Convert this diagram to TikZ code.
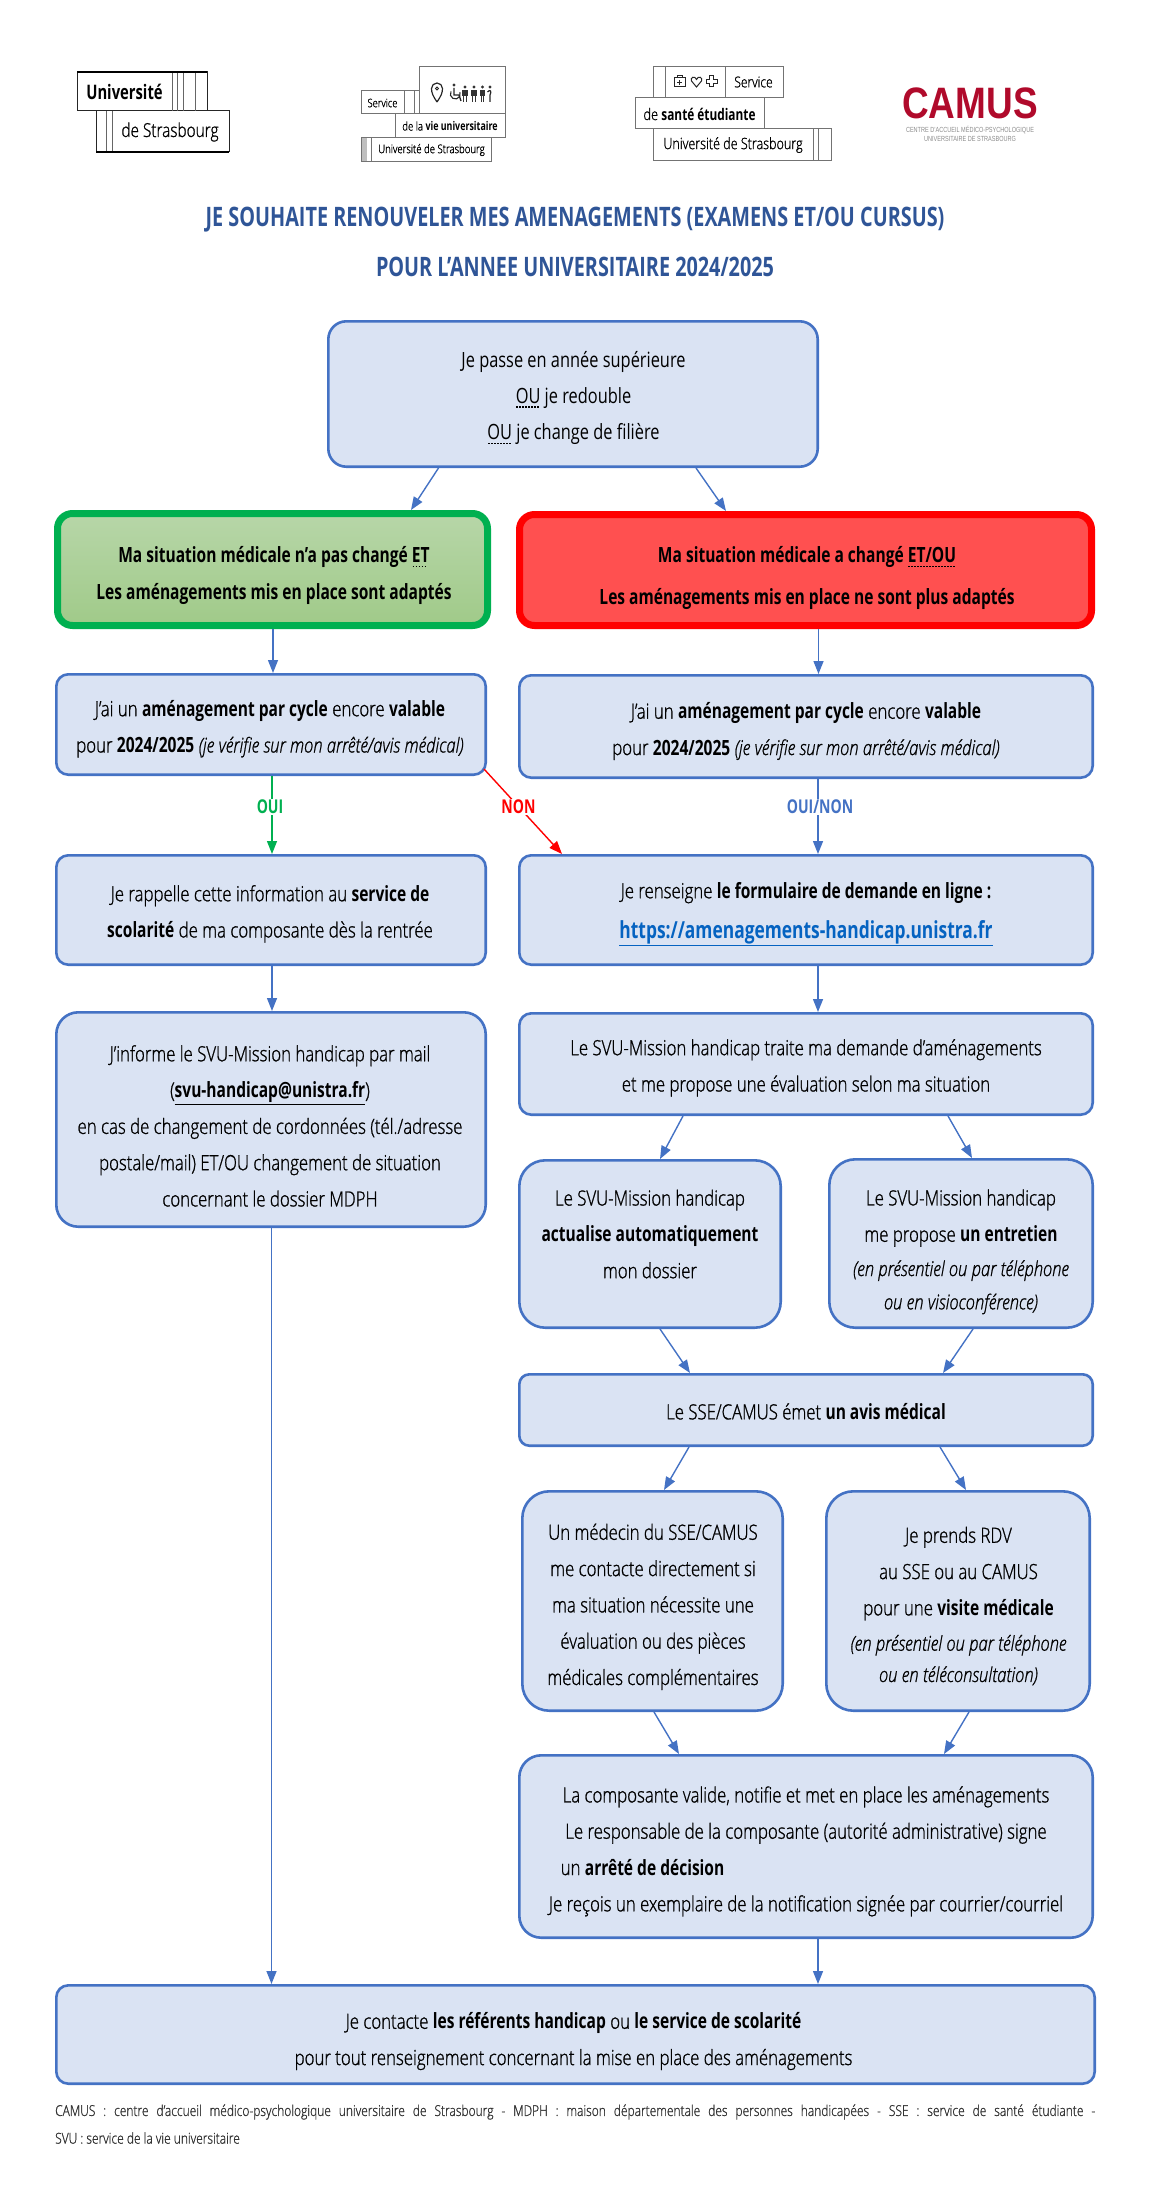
\documentclass[tikz,border=0pt]{standalone}
\usepackage{fontspec}
\setmainfont{Open Sans}[UprightFont=* Light,BoldFont=* Bold,ItalicFont=* Light Italic,UprightFeatures={FakeStretch=.8,FakeBold=1},BoldFeatures={FakeStretch=.74},ItalicFeatures={FakeStretch=.81,FakeBold=1}]
\newfontfamily\regfont{Open Sans}[FakeStretch=.78]
\newfontfamily\camusfont{Liberation Sans}[FakeStretch=.84]
\newfontfamily\camussmall{Liberation Sans}[FakeStretch=.75]
\usetikzlibrary{arrows.meta}
\definecolor{bluel}{HTML}{4472C4}
\definecolor{bluef}{HTML}{DAE3F3}
\definecolor{titleblue}{HTML}{2F5597}
\definecolor{linkblue}{HTML}{0563C1}
\definecolor{greenl}{HTML}{00B050}
\definecolor{camusred}{HTML}{B00A2B}
\newcommand\tx[3]{\smash{\makebox[0pt]{\kern#1pt\raisebox{\dimexpr #2pt-5.3pt\relax}{\begin{tabular}{@{}c@{}}#3\end{tabular}}}}}
\newcommand\ita[1]{{\itshape\fontsize{20.5}{36.3}\selectfont #1}}
\newcommand\dul[1]{\setbox0=\hbox{#1}\rlap{\raisebox{-4.5pt}{\hbox to \wd0{\leaders\hbox to 3pt{\hss\vrule width 1.7pt height 1.5pt\hss}\hfil}}}\box0 }
\newcommand\person[1]{\fill[black!80] (#1,87) circle (1.7pt);\fill[black!80] ({#1-2.6},90) rectangle ({#1+2.6},96);\draw[black!80,line width=1pt] ({#1-1.4},96) -- ({#1-1.4},102) ({#1+1.4},96) -- ({#1+1.4},102);}
\tikzset{
  x=1pt,y=-1pt,
  place/.style n args={4}{at={({(#1+#3)/2},{(#2+#4)/2})},minimum width=#3pt-#1pt-\pgflinewidth,minimum height=#4pt-#2pt-\pgflinewidth},
  rr/.style={rounded corners=#1pt},
  box/.style={draw=bluel,fill=bluef,line width=2.6pt,inner sep=0pt,font=\fontsize{21}{36.3}\selectfont,text=black},
  greenbox/.style={box,draw=greenl,line width=7pt,top color=B6green,bottom color=A0green},
  redbox/.style={box,draw=red,line width=7pt,fill=redf},
  conn/.style={draw=bluel,line width=1.4pt,-{Triangle[length=13pt,width=10pt]}},
  lbl/.style={fill=white,inner xsep=1pt,inner ysep=1pt,font=\fontsize{19}{20}\selectfont\bfseries},
  logoline/.style={draw=#1,line width=1pt},
  logotext/.style={inner sep=0pt,text=black,font=\fontsize{#1}{#1}\selectfont},
  titletext/.style={inner sep=0pt,text=titleblue,font=\fontsize{26.8}{30}\selectfont\bfseries},
  foot/.style={inner sep=0pt,anchor=west,text=black!80,font=\fontsize{15}{16}\selectfont},
}
\definecolor{B6green}{RGB}{183,214,168}
\definecolor{A0green}{RGB}{160,202,137}
\definecolor{redf}{HTML}{FF5050}
\begin{document}
\begin{tikzpicture}
\useasboundingbox (0,0) rectangle (1150,2186);
% --- logos
\foreach \a/\b/\c/\d in {77/72/207/111,96/111/229/152} \draw[logoline=black!85] (\a,\b) rectangle (\c,\d);
\foreach \a in {172,177,183,195} \draw[logoline=black!60] (\a,72) -- (\a,111);
\foreach \a in {106,112} \draw[logoline=black!60] (\a,111) -- (\a,152);
\draw[black,line width=2pt] (77,72) -- (207,72) (96,152) -- (229,152);
\node[logotext=20] (logoA) at (124.5,92) {\bfseries Université};
\node[logotext=19.2] (logoB) at (170,132) {de Strasbourg};
\fill[black!25] (361,138) rectangle (367,162);
\foreach \a/\b/\c/\d in {419/67/505/114,361/91/419/114,395/114/505/138,361/138/491/162} \draw[logoline=black!55] (\a,\b) rectangle (\c,\d);
\foreach \a in {404,414} \draw[logoline=black!55] (\a,91) -- (\a,114);
\draw[logoline=black!55] (371,138) -- (371,162);
\node[logotext=11.7] (logoC) at (382.5,103) {Service};
\node[logotext=12] (logoD) at (450,126) {de la \textbf{vie universitaire}};
\node[logotext=12] (logoE) at (431.5,150) {Université de Strasbourg};
\draw[black!85,line width=1.2pt] (437,102) .. controls (433,96) and (431.5,93) .. (431.5,88.5) arc[start angle=180,end angle=0,radius=5.5pt] .. controls (442.5,93) and (441,96) .. (437,102);
\draw[black!85,line width=1pt] (437,88.5) circle (1.5pt);
\fill[black!80] (454,85) circle (1.7pt);
\draw[black!85,line width=1.3pt] (454,88) -- (454,95) -- (459,95) -- (461,101);
\draw[black!85,line width=1.1pt] (451,91.5) arc[start angle=150,end angle=380,radius=5pt];
\person{465}\person{474}\person{482.5}
\fill[black!80] (490,87) circle (1.7pt);
\draw[black!85,line width=1.2pt] (487.5,92) .. controls (490,89) and (492,91) .. (490,95) -- (490,102);
\foreach \a/\b/\c/\d in {653/67/783/98,635/98/764/129,653/129/831/161} \draw[logoline=black!55] (\a,\b) rectangle (\c,\d);
\foreach \a in {665,725} \draw[logoline=black!55] (\a,67) -- (\a,98);
\foreach \a in {813,818} \draw[logoline=black!55] (\a,129) -- (\a,161);
\node[logotext=15] (logoF) at (753.5,82) {Service};
\node[logotext=16] (logoG) at (699.5,114) {de \textbf{santé étudiante}};
\node[logotext=15.7] (logoH) at (733,145) {Université de Strasbourg};
\draw[black!85,line width=1pt] (674,78) rectangle (685,87) (677,78) -- (677,75.5) -- (682,75.5) -- (682,78) (679.5,80) -- (679.5,85) (677,82.5) -- (682,82.5);
\draw[black!85,line width=1pt] (696.5,87) -- (691.5,81) .. controls (690,77) and (695,75.5) .. (696.5,79.5) .. controls (698,75.5) and (703,77) .. (701.5,81) -- cycle;
\draw[black!85,line width=1pt] (709.5,76) -- (713.5,76) -- (713.5,79.5) -- (717,79.5) -- (717,83.5) -- (713.5,83.5) -- (713.5,87) -- (709.5,87) -- (709.5,83.5) -- (706,83.5) -- (706,79.5) -- (709.5,79.5) -- cycle;
\node[inner sep=0pt,text=camusred,font=\camusfont\fontsize{44}{44}\selectfont\bfseries] (camus) at (970,103) {CAMUS};
\node[inner sep=0pt,text=black!45,font=\camussmall\fontsize{7.4}{9}\selectfont] (camusA) at (970,130) {CENTRE D’ACCUEIL MÉDICO-PSYCHOLOGIQUE};
\node[inner sep=0pt,text=black!45,font=\camussmall\fontsize{7.4}{9}\selectfont] (camusB) at (970,139) {UNIVERSITAIRE DE STRASBOURG};
% --- title
\node[titletext] (titleA) at (575,220) {JE SOUHAITE RENOUVELER MES AMENAGEMENTS (EXAMENS ET/OU CURSUS)};
\node[titletext] (titleB) at (575,267) {POUR L’ANNEE UNIVERSITAIRE 2024/2025};
% --- boxes
\node[box,rr=18,place={327}{320}{819}{468}] (top) {\regfont\tx{1}{-2}{Je passe en année supérieure\\\dul{OU} je redouble\\\dul{OU} je change de filière}};
\node[greenbox,rr=15,place={54}{510}{491}{629}] (green) {\tx{3}{-4}{\textbf{Ma situation médicale n’a pas changé \dul{ET}}\\\textbf{Les aménagements mis en place sont adaptés}}};
\node[redbox,rr=15,place={516}{511}{1095}{629}] (redb) {\tx{3}{-6}{\textbf{Ma situation médicale a changé \dul{ET/OU}}\\[5pt]\textbf{Les aménagements mis en place ne sont plus adaptés}}};
\node[box,rr=12,place={55}{673}{487}{776}] (l2) {\tx{-2}{-2.5}{J’ai un \textbf{aménagement par cycle} encore \textbf{valable}\\pour \textbf{2024/2025} \ita{(je vérifie sur mon arrêté/avis médical)}}};
\node[box,rr=12,place={518}{674}{1094}{779}] (r2) {\tx{0}{-3}{J’ai un \textbf{aménagement par cycle} encore \textbf{valable}\\pour \textbf{2024/2025} \ita{(je vérifie sur mon arrêté/avis médical)}}};
\node[box,rr=12,place={55}{854}{487}{966}] (l3) {\tx{-2}{-2}{Je rappelle cette information au \textbf{service de}\\\textbf{scolarité} de ma composante dès la rentrée}};
\node[box,rr=12,place={518}{854}{1094}{966}] (r3) {\tx{0}{-1}{Je renseigne \textbf{le formulaire de demande en ligne :}\\[4pt]\textcolor{linkblue}{\underline{\fontsize{23.5}{36.3}\selectfont\textbf{https://amenagements-handicap.unistra.fr}}}}};
\node[box,rr=22,place={55}{1011}{487}{1228}] (l4) {\tx{-2}{-7}{J’informe le SVU-Mission handicap par mail\\(\underline{\textbf{svu-handicap@unistra.fr}})\\en cas de changement de cordonnées (tél./adresse\\postale/mail) ET/OU changement de situation\\concernant le dossier MDPH}};
\node[box,rr=12,place={518}{1012}{1094}{1116}] (r4) {\tx{0}{-2}{Le SVU-Mission handicap traite ma demande d’aménagements\\et me propose une évaluation selon ma situation}};
\node[box,rr=26,place={518}{1159}{782}{1329}] (sl) {\tx{0}{9.5}{Le SVU-Mission handicap\\\textbf{actualise automatiquement}\\mon dossier}};
\node[box,rr=26,place={828}{1158}{1094}{1329}] (sr) {\tx{0}{-6.5}{Le SVU-Mission handicap\\me propose \textbf{un entretien}\\[-2pt]\ita{(en présentiel ou par téléphone}\\[-3pt]\ita{ou en visioconférence)}}};
\node[box,rr=10,place={518}{1373}{1094}{1447}] (r5) {\tx{0}{-2}{Le SSE/CAMUS émet \textbf{un avis médical}}};
\node[box,rr=27,place={521}{1490}{784}{1712}] (ml) {\tx{1}{-4}{Un médecin du SSE/CAMUS\\me contacte directement si\\ma situation nécessite une\\évaluation ou des pièces\\médicales complémentaires}};
\node[box,rr=27,place={825}{1490}{1091}{1712}] (mr) {\tx{1}{-4}{Je prends RDV\\au SSE ou au CAMUS\\pour une \textbf{visite médicale}\\[-1pt]\ita{(en présentiel ou par téléphone}\\[-5pt]\ita{ou en téléconsultation)}}};
\node[box,rr=22,place={518}{1754}{1094}{1939}] (r7) {\tx{0}{-3}{La composante valide, notifie et met en place les aménagements\\Le responsable de la composante (autorité administrative) signe\\\hspace*{-327pt}un \textbf{arrêté de décision}\\Je reçois un exemplaire de la notification signée par courrier/courriel}};
\node[box,rr=12,place={55}{1984}{1096}{2085}] (final) {\tx{-4}{-5}{Je contacte \textbf{les référents handicap} ou \textbf{le service de scolarité}\\pour tout renseignement concernant la mise en place des aménagements}};
% --- connectors
\draw[conn] ([xshift=-134.5pt]top.south) -- ([xshift=138.5pt]green.north);
\draw[conn] ([xshift=123pt]top.south) -- ([xshift=-79.5pt]redb.north);
\draw[conn] ([xshift=.5pt]green.south) -- ([xshift=2pt]l2.north);
\draw[conn] ([xshift=13pt]redb.south) -- ([xshift=12.5pt]r2.north);
\draw[conn,draw=greenl,{-{Triangle[length=13pt,width=10pt,fill=greenl]}}] ([xshift=1pt]l2.south) -- ([xshift=1pt]l3.north);
\draw[conn,draw=red,{-{Triangle[length=13pt,width=10pt,fill=red]}}] ([shift={(-3pt,7pt)}]l2.south east) -- ([xshift=-244pt]r3.north);
\draw[conn] ([xshift=12pt]r2.south) -- ([xshift=12pt]r3.north);
\draw[conn] ([xshift=1pt]l3.south) -- ([xshift=1pt]l4.north);
\draw[conn] ([xshift=12pt]r3.south) -- ([xshift=12pt]r4.north);
\draw[conn] ([xshift=-123pt]r4.south) -- ([xshift=10pt]sl.north);
\draw[conn] ([xshift=142pt]r4.south) -- ([xshift=11pt]sr.north);
\draw[conn] ([xshift=10pt]sl.south) -- ([xshift=-116pt]r5.north);
\draw[conn] ([xshift=12pt]sr.south) -- ([xshift=137pt]r5.north);
\draw[conn] ([xshift=-117pt]r5.south) -- ([xshift=11.5pt]ml.north);
\draw[conn] ([xshift=134pt]r5.south) -- ([xshift=8pt]mr.north);
\draw[conn] ([xshift=1.5pt]ml.south) -- ([xshift=-127pt]r7.north);
\draw[conn] ([xshift=11pt]mr.south) -- ([xshift=138pt]r7.north);
\draw[conn] ([xshift=12pt]r7.south) -- ([xshift=242.5pt]final.north);
\draw[conn] ([xshift=.5pt]l4.south) -- ([xshift=-304pt]final.north);
% --- labels
\node[lbl,text=greenl] (oui) at (270,807) {OUI};
\node[lbl,text=red] (non) at (518.5,807) {NON};
\node[lbl,text=bluel] (ouinon) at (820,807) {OUI/NON};
% --- footer
\node[foot] (footA) at (55,2112) {\makebox[1040pt][s]{CAMUS : centre d’accueil médico-psychologique universitaire de Strasbourg - MDPH : maison départementale des personnes handicapées - SSE : service de santé étudiante -}};
\node[foot] (footB) at (55,2138) {SVU : service de la vie universitaire};
\end{tikzpicture}
\end{document}
